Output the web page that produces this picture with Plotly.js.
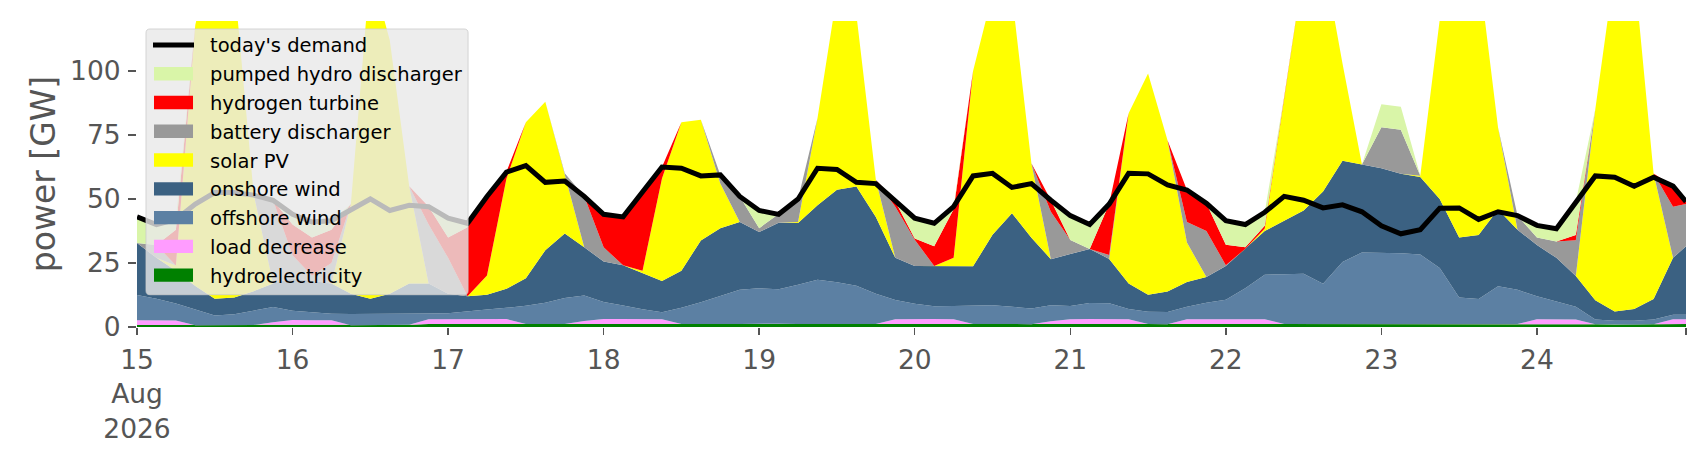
<!DOCTYPE html>
<html>
<head>
<meta charset="utf-8">
<script src="https://cdn.plot.ly/plotly-3.0.1.min.js"></script>
<style>body{margin:0;background:#fff;}</style>
</head>
<body>
<div id="chart" style="width:1706px;height:460px;"></div>
<script>
// 3-hourly samples from 15 Aug 00:00, last one is 24 Aug 23:00
var times = [];
for (var k = 0; k < 80; k++) {
  var t = new Date(Date.UTC(2026, 7, 15) + k * 3 * 3600 * 1000);
  times.push(t.toISOString().slice(0, 16).replace('T', ' '));
}
times.push('2026-08-24 23:00');

// GW
var hydro = [0.8,0.8,0.7,0.7,0.7,0.8,0.8,0.9,0.9,0.8, 0.8,0.7,0.7,0.8,0.9,1.2,1.2,1.2,1.3,1.3,
  1.2,1.2,1.2,1.3,1.3,1.3,1.2,1.2,1.2,1.1, 1.2,1.2,1.3,1.3,1.2,1.2,1.2,1.1,1.2,1.2,
  1.3,1.3,1.2,1.2,1.2,1.1,1.1,1.2,1.2,1.3, 1.3,1.2,1.2,1.1,1.2,1.2,1.3,1.3,1.2,1.2,
  1.2,1.1,1.1,1.2,1.2,1.2,1.3,1.2,1.2,1.1, 1.1,1.2,1.2,1.2,1.1,1.1,1.0,1.0,1.1,1.2, 1.2];
var loadDecrease = [1.8,1.8,1.8,0,0,0,0,1.0,1.8,1.8, 1.8,0,0,0,0,1.8,1.8,1.8,1.8,1.8,
  0,0,0,1.0,1.8,1.8,1.8,1.8,0,0, 0,0,0,0,0,0,0,0,0,1.8,
  1.8,1.8,1.8,0,0,0,0,1.0,1.8,1.8, 1.8,1.8,0,0,1.8,1.8,1.8,1.8,1.8,0,
  0,0,0,0,0,0,0,0,0,0, 0,0,1.8,1.8,1.8,0,0,0,0,1.8, 1.8];
var offshore = [9.9,8.4,6.7,6.3,3.8,4.2,5.7,5.9,3.6,3.1, 2.6,4.4,4.4,4.3,4.2,2.3,2.4,3.0,3.7,4.4,
  7.1,8.3,10.1,10.0,6.7,5.3,3.9,2.8,6.3,8.6, 10.8,13.3,13.8,13.4,15.3,17.3,16.3,15.0,11.8,7.5,
  6.0,5.0,5.2,7.2,7.3,6.8,6.1,6.3,5.2,6.3, 6.2,4.0,4.8,4.8,4.9,6.5,7.5,12.0,17.4,19.4,
  19.6,15.8,24.3,27.9,27.8,27.6,27.0,21.8,10.3,9.8, 14.8,13.3,9.0,7.0,5.0,1.8,1.4,1.4,1.8,1.8, 1.8];
var onshore = [20.3,16,12.8,9,6.5,6.5,7.5,9.2,12.7,12.3, 11.8,7.9,5.9,7.9,11.9,11.7,7.6,6.0,5.8,7.4,
  10.7,20.5,25.2,18.8,15.8,15.7,14.1,12.2,14.5,24.1, 26.6,26.5,22.0,26.0,24.1,29.0,36.1,38.8,30.0,16.5,
  14.7,15.7,15.5,15.3,27.5,36.5,27.7,18.0,20.3,21.1, 17.3,10.0,6.6,8.0,9.7,10.0,13.2,15.5,17.1,20.9,
  24.7,36.0,39.5,34.4,33.0,31.0,30.3,27.0,23.5,25.0, 30.0,23.5,20.0,17.0,12.0,7.5,3.7,4.6,8.0,22.2, 26.7];
var solar = [0,0,2,102,139,123.5,38,0,0,0, 0,35,129,99,38,0,0,0,7.5,43,
  61,58,23.5,0,0,0,1,40,58,47.1, 17.4,0,0,0,0.4,34.1,76.4,67,14.5,0,
  0,0,3.3,76.3,94,85.5,29,0,0,0, 0,66.5,86.4,59,15.4,0,0,0,1,48.5,
  94.5,92,38,0,0,0,0.5,70,105,104, 32,0,0,0,0,74.5,133.7,132.8,49,0, 0];
var battery = [0,5,0,0,0,0,0,32.5,9,2, 8,0,0,0,0,23,14,0,0,0,
  0,0,0,20,5.5,0,0,0,0,0, 3.4,10,1.5,3.4,9,0,0,0,0,20,
  10.3,0,0,0,0,0,0,18.5,5.5,0, 1.5,0,0,0,8,18,0.3,0,0,0,
  0,0,0,0,16,17.2,0,0,0,0, 0,5.5,3,6.4,14,0,0,0,0,20, 16.5];
var hydrogen = [0,0,14,0,0,0,0,0,12,15, 13,0,0,0,0,7,8,27,31,2.7,
  0,0,0,0,13,19,31,4.5,0,0, 0,0,0,0,0,0,0,0,0,2,
  0.5,7.7,19,0,0,0,0,4.5,0,0, 20,0,0,0,12.5,10.8,8,0.5,1,0,
  0,0,0,0,0,0,0,0,0,0, 0,0,0,0,2,0,0,0,0,8, 1];
var pumpedHydro = [10.2,8,4,0,0,0,0,0,4,6, 3.5,0,0,0,0,0,7.5,1.5,0,0,
  0,0,0,0,0,0,0,0,0,0, 0,0,7,0,0,0,0,0,0,0,
  8,9.1,1,0,0,0,0,0,9.5,9.6, 0,0,0,0,0,0,9.5,9,5.3,0,
  0,0,0,0,9,9,0,0,0,0, 0,0,4.7,5,13,0,0,0,0,0, 0];
var demand = [43,40,42,48,52.5,52.5,51.5,49.5,44,41, 41.5,46,50,45.5,47.5,47,42.5,40.5,51,60.5,
  63,56.5,57,51,44,43,53,62.5,62,59, 59.4,51,45.5,44,50,62,61.5,56.5,56,49,
  42.5,40.5,47,59,60,54.5,56,49.5,43.5,40, 48,60,59.8,55.5,53.5,48.3,41.5,40,44.8,51,
  49.5,46.5,47.7,45,39.5,36.4,38,46.4,46.5,42, 45,43.5,39.7,38.4,49,59,58.5,55,58.5,55, 49];

// stack order, bottom first
var areas = [
  {name: 'hydroelectricity', y: hydro, color: '#008000'},
  {name: 'load decrease', y: loadDecrease, color: '#ff9cff'},
  {name: 'offshore wind', y: offshore, color: '#5c80a3'},
  {name: 'onshore wind', y: onshore, color: '#3b6182'},
  {name: 'solar PV', y: solar, color: '#ffff00'},
  {name: 'battery discharger', y: battery, color: '#999999'},
  {name: 'hydrogen turbine', y: hydrogen, color: '#ff0000'},
  {name: 'pumped hydro discharger', y: pumpedHydro, color: '#d9f5a8'}
];

var data = areas.map(function (a) {
  return {
    x: times, y: a.y, name: a.name, type: 'scatter', mode: 'lines',
    stackgroup: 'one', line: {width: 0}, fillcolor: a.color, showlegend: false
  };
});

data.push({
  x: times, y: demand, name: "today's demand", type: 'scatter', mode: 'lines',
  line: {color: '#000000', width: 5}, showlegend: false
});

// legend box drawn by hand (matplotlib look: wide patches, grey translucent box)
var plotL = 137, plotW = 1548.7, plotB = 327.3, plotH = 306.3;
function px(x) { return (x - plotL) / plotW; }
function py(y) { return (plotB - y) / plotH; }

// rounded box
var bx0 = px(146), bx1 = px(468), by0 = py(295), by1 = py(29);
var rx = 4 / plotW, ry = 4 / plotH;
var boxPath = 'M' + (bx0 + rx) + ',' + by1 + ' L' + (bx1 - rx) + ',' + by1 +
  ' Q' + bx1 + ',' + by1 + ' ' + bx1 + ',' + (by1 - ry) + ' L' + bx1 + ',' + (by0 + ry) +
  ' Q' + bx1 + ',' + by0 + ' ' + (bx1 - rx) + ',' + by0 + ' L' + (bx0 + rx) + ',' + by0 +
  ' Q' + bx0 + ',' + by0 + ' ' + bx0 + ',' + (by0 + ry) + ' L' + bx0 + ',' + (by1 - ry) +
  ' Q' + bx0 + ',' + by1 + ' ' + (bx0 + rx) + ',' + by1 + ' Z';

var shapes = [{
  type: 'path', xref: 'paper', yref: 'paper', layer: 'above', path: boxPath,
  fillcolor: 'rgba(232,232,232,0.8)', line: {color: 'rgba(204,204,204,0.8)', width: 1}
}];
var annotations = [];
var entries = [{name: "today's demand", color: '#000000', line: true}];
for (var i = areas.length - 1; i >= 0; i--) entries.push(areas[i]);
entries.forEach(function (e, i) {
  var yc = 45 + 28.8 * i;
  if (e.line) {
    shapes.push({type: 'line', xref: 'paper', yref: 'paper', layer: 'above',
      x0: px(153), x1: px(194), y0: py(yc), y1: py(yc), line: {color: e.color, width: 5}});
  } else {
    shapes.push({type: 'rect', xref: 'paper', yref: 'paper', layer: 'above',
      x0: px(154), x1: px(193), y0: py(yc + 6.7), y1: py(yc - 6.7),
      fillcolor: e.color, line: {width: 0}});
  }
  annotations.push({xref: 'paper', yref: 'paper', x: px(208), y: py(yc + 1),
    xanchor: 'left', yanchor: 'middle', showarrow: false, text: e.name,
    font: {size: 19.5, color: '#000000'}});
});

var dayTicks = [];
var dayText = [];
for (var d = 15; d <= 24; d++) {
  dayTicks.push('2026-08-' + d + ' 00:00');
  dayText.push(d == 15 ? '15<br>Aug<br>2026' : String(d));
}
dayTicks.push('2026-08-24 23:00');
dayText.push('');

var layout = {
  width: 1706, height: 460,
  margin: {l: 137, r: 20, t: 21, b: 133},
  paper_bgcolor: '#ffffff', plot_bgcolor: '#ffffff',
  font: {family: 'DejaVu Sans', color: '#555555'},
  showlegend: false,
  xaxis: {
    type: 'date', range: ['2026-08-15 00:00', '2026-08-24 23:00'],
    tickmode: 'array', tickvals: dayTicks, ticktext: dayText,
    ticks: 'outside', ticklen: 7, tickwidth: 1.5, tickcolor: '#555555',
    ticklabelstandoff: 2,
    tickfont: {size: 26.5, color: '#555555'},
    showgrid: false, zeroline: false, showline: false
  },
  yaxis: {
    range: [0, 119.5], tickvals: [0, 25, 50, 75, 100],
    ticks: 'outside', ticklen: 8, tickwidth: 1.5, tickcolor: '#555555',
    ticklabelstandoff: 2,
    tickfont: {size: 26.5, color: '#555555'},
    title: {text: 'power [GW]', font: {size: 33, color: '#555555'}, standoff: 4},
    showgrid: false, zeroline: false, showline: false
  },
  shapes: shapes,
  annotations: annotations
};

Plotly.newPlot('chart', data, layout, {staticPlot: true});
</script>
</body>
</html>
